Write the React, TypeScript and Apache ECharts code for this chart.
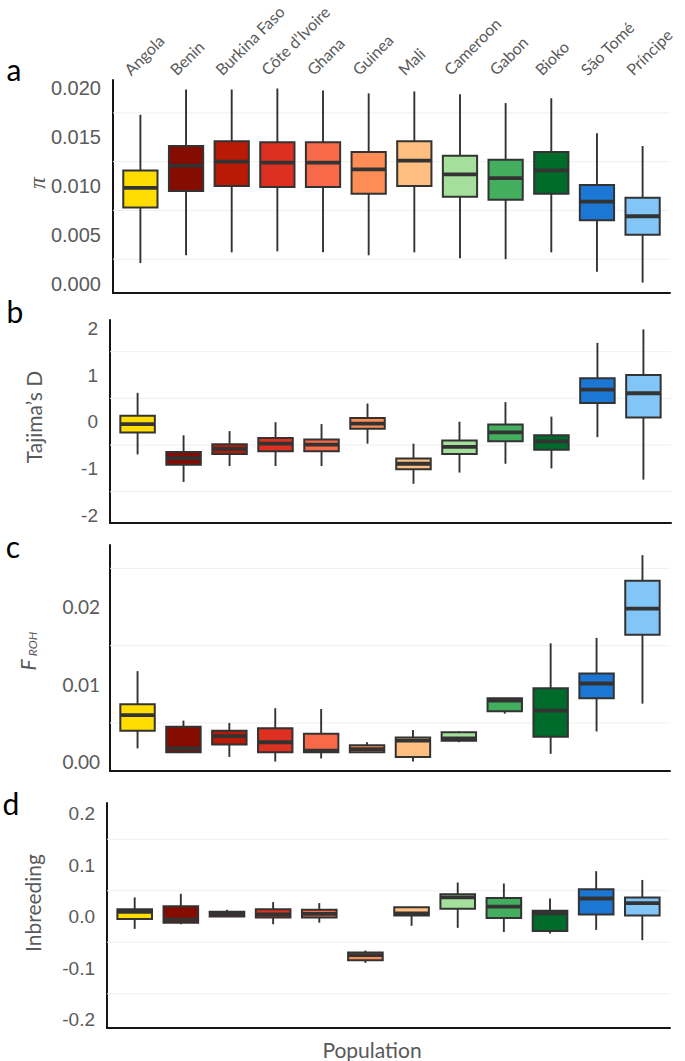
import React, { useEffect, useRef } from 'react';
import * as echarts from 'echarts';

const populations = ['Angola', 'Benin', 'Burkina Faso', 'Côte d’Ivoire', 'Ghana', 'Guinea', 'Mali', 'Cameroon', 'Gabon', 'Bioko', 'São Tomé', 'Príncipe'];
const fills = ['#FFDD00', '#850C00', '#B81A06', '#DD3020', '#F8694A', '#FD8C55', '#FEBF80', '#A5DF9C', '#43AE5E', '#006B2B', '#1C76D3', '#81C6F6'];

// each row: [lower whisker, Q1, median, Q3, upper whisker]
const piStats = [
  [0.0021, 0.0078, 0.0098, 0.0116, 0.0173],
  [0.0029, 0.0095, 0.0121, 0.0141, 0.0199],
  [0.0032, 0.0100, 0.0125, 0.0146, 0.0199],
  [0.0033, 0.0099, 0.0124, 0.0145, 0.0200],
  [0.0032, 0.0099, 0.0124, 0.0145, 0.0198],
  [0.0029, 0.0092, 0.0117, 0.0135, 0.0195],
  [0.0032, 0.0100, 0.0126, 0.0146, 0.0197],
  [0.0026, 0.0089, 0.0112, 0.0131, 0.0194],
  [0.0025, 0.0086, 0.0108, 0.0127, 0.0185],
  [0.0032, 0.0092, 0.0116, 0.0135, 0.0190],
  [0.0012, 0.0065, 0.0084, 0.0101, 0.0154],
  [0.0001, 0.0050, 0.0069, 0.0088, 0.0141],
];
const tajimaStats = [
  [-0.70, -0.23, -0.05, 0.13, 0.62],
  [-1.29, -0.92, -0.78, -0.65, -0.29],
  [-0.95, -0.69, -0.58, -0.48, -0.20],
  [-0.95, -0.63, -0.47, -0.35, -0.01],
  [-0.95, -0.63, -0.49, -0.38, -0.05],
  [-0.47, -0.15, -0.04, 0.08, 0.39],
  [-1.33, -1.02, -0.90, -0.79, -0.47],
  [-1.09, -0.69, -0.54, -0.40, 0.00],
  [-0.90, -0.42, -0.23, -0.06, 0.42],
  [-1.00, -0.60, -0.42, -0.29, 0.11],
  [-0.33, 0.40, 0.69, 0.93, 1.69],
  [-1.24, 0.09, 0.61, 1.00, 1.98],
];
const frohStats = [
  [0.0017, 0.0040, 0.0060, 0.0074, 0.0117],
  [0.0011, 0.0012, 0.0017, 0.0045, 0.0053],
  [0.0006, 0.0022, 0.0033, 0.0040, 0.0050],
  [0.0000, 0.0012, 0.0025, 0.0043, 0.0069],
  [0.0004, 0.0012, 0.0014, 0.0036, 0.0068],
  [0.0011, 0.0012, 0.0016, 0.0021, 0.0025],
  [0.0000, 0.0006, 0.0027, 0.0031, 0.0041],
  [0.0025, 0.0027, 0.0030, 0.0038, 0.0039],
  [0.0062, 0.0065, 0.0079, 0.0082, 0.0082],
  [0.0010, 0.0032, 0.0066, 0.0095, 0.0153],
  [0.0039, 0.0082, 0.0101, 0.0114, 0.0160],
  [0.0075, 0.0164, 0.0198, 0.0234, 0.0267],
];
const inbreedingStats = [
  [-0.024, -0.005, 0.009, 0.014, 0.037],
  [-0.015, -0.012, -0.006, 0.020, 0.044],
  [0.000, 0.000, 0.005, 0.009, 0.013],
  [-0.015, -0.002, 0.004, 0.014, 0.028],
  [-0.012, -0.002, 0.005, 0.013, 0.026],
  [-0.090, -0.085, -0.075, -0.070, -0.066],
  [-0.018, 0.002, 0.006, 0.018, 0.019],
  [-0.022, 0.015, 0.037, 0.043, 0.066],
  [-0.030, -0.003, 0.019, 0.036, 0.064],
  [-0.033, -0.028, 0.006, 0.011, 0.035],
  [-0.026, 0.004, 0.035, 0.053, 0.088],
  [-0.046, 0.002, 0.026, 0.037, 0.071],
];

const piTicks = [0, 0.005, 0.01, 0.015, 0.02];
const piGrid = [0.0025, 0.0075, 0.0125, 0.0175];
const tajimaTicks = [-2, -1, 0, 1, 2];
const tajimaGrid = [-1.5, -0.5, 0.5, 1.5];
const frohTicks = [0, 0.01, 0.02];
const frohGrid = [0.005, 0.015, 0.025];
const inbreedingTicks = [-0.2, -0.1, 0, 0.1, 0.2];
const inbreedingGrid = [-0.15, -0.05, 0.05, 0.15];

const TICK_COLOR = '#5a5a5a';
const LINE_COLOR = '#333333';
const AXIS_COLOR = '#151515';
const LABEL_SHIFT = 0.3;

const panels = [
  { stats: piStats, ticks: piTicks, grid: piGrid, min: -0.00097, max: 0.02087, dec: 3, rect: { left: 113, right: 15, top: 80, height: 213 }, font: 'Liberation Sans', size: 20, labelMargin: 12 },
  { stats: tajimaStats, ticks: tajimaTicks, grid: tajimaGrid, min: -2.17, max: 2.18, dec: 0, rect: { left: 110, right: 14, top: 320, height: 203 }, font: 'Liberation Sans', size: 19, labelMargin: 12 },
  { stats: frohStats, ticks: frohTicks, grid: frohGrid, min: -0.00122, max: 0.02802, dec: 2, rect: { left: 110, right: 15, top: 545, height: 226 }, font: 'Lato', size: 19, labelMargin: 10 },
  { stats: inbreedingStats, ticks: inbreedingTicks, grid: inbreedingGrid, min: -0.2165, max: 0.2204, dec: 1, rect: { left: 107, right: 15, top: 803, height: 225 }, font: 'Liberation Sans', size: 19, labelMargin: 12 },
];

function boxRender(params: any, api: any) {
  const i = api.value(0);
  const idx = params.dataIndex;
  const pLow = api.coord([i, api.value(1)]);
  const pQ1 = api.coord([i, api.value(2)]);
  const pMed = api.coord([i, api.value(3)]);
  const pQ3 = api.coord([i, api.value(4)]);
  const pHigh = api.coord([i, api.value(5)]);
  const hw = api.size([0.75, 0])[0] / 2;
  const cx = pMed[0];
  const wStyle = { stroke: LINE_COLOR, lineWidth: 1.9 };
  return {
    type: 'group',
    children: [
      { type: 'line', shape: { x1: cx, y1: pHigh[1], x2: cx, y2: pQ3[1] }, style: wStyle },
      { type: 'line', shape: { x1: cx, y1: pQ1[1], x2: cx, y2: pLow[1] }, style: wStyle },
      { type: 'rect', shape: { x: cx - hw, y: pQ3[1], width: hw * 2, height: pQ1[1] - pQ3[1] }, style: { fill: fills[idx], stroke: LINE_COLOR, lineWidth: 2 } },
      { type: 'line', shape: { x1: cx - hw, y1: pMed[1], x2: cx + hw, y2: pMed[1] }, style: { stroke: LINE_COLOR, lineWidth: 3.8 } },
    ],
  };
}

function gridRender(params: any, api: any) {
  const cs = params.coordSys;
  const p = api.coord([api.value(0), api.value(1)]);
  return { type: 'line', shape: { x1: cs.x, y1: p[1], x2: cs.x + cs.width, y2: p[1] }, style: { stroke: '#efefef', lineWidth: 1 } };
}

function text(x: number, y: number, t: string, font: string, opts: any = {}) {
  return {
    type: 'text', x, y, rotation: opts.rotation || 0,
    style: { text: t, font, fill: opts.fill || '#595959', align: opts.align || 'center', verticalAlign: opts.va || 'middle', textAlign: opts.align || 'center', textVerticalAlign: opts.va || 'middle' },
  };
}

export default function App() {
  const ref = useRef<HTMLDivElement>(null);
  useEffect(() => {
    if (!ref.current) return;
    const chart = echarts.init(ref.current, null, { renderer: 'svg' });
    const grids: any[] = [];
    const xAxes: any[] = [];
    const yAxes: any[] = [];
    const series: any[] = [];
    panels.forEach((p, k) => {
      grids.push({ ...p.rect, containLabel: false, outerBoundsMode: 'none' });
      xAxes.push({
        gridIndex: k, type: 'value', position: 'bottom', min: 0.4, max: 12.6,
        axisLine: { show: true, onZero: false, lineStyle: { color: AXIS_COLOR, width: 2 } },
        axisTick: { show: false }, axisLabel: { show: false }, splitLine: { show: false },
      });
      yAxes.push({
        gridIndex: k, type: 'value', min: p.min, max: p.max,
        axisLine: { show: true, onZero: false, lineStyle: { color: AXIS_COLOR, width: 2 } },
        axisTick: { show: false }, splitLine: { show: false },
        axisLabel: {
          customValues: p.ticks, margin: p.labelMargin, color: TICK_COLOR, fontSize: p.size, fontFamily: p.font,
          formatter: (v: number) => v.toFixed(p.dec),
        },
      });
      series.push({
        type: 'custom', xAxisIndex: k, yAxisIndex: k, z: 1, silent: true,
        data: p.grid.map((g) => [1, g]), encode: { x: 0, y: 1 }, renderItem: gridRender,
      });
      series.push({
        type: 'custom', xAxisIndex: k, yAxisIndex: k, z: 2, silent: true,
        data: p.stats.map((s, i) => [i + 1, ...s]), encode: { x: 0, y: [1, 2, 3, 4, 5] }, renderItem: boxRender,
      });
    });
    // top category labels for panel a
    xAxes.push({
      gridIndex: 0, type: 'value', position: 'top', min: 0.4, max: 12.6,
      axisLine: { show: false }, axisTick: { show: false }, splitLine: { show: false },
      axisLabel: {
        customValues: populations.map((_, i) => i + 1 - LABEL_SHIFT),
        formatter: (v: number) => populations[Math.round(v + LABEL_SHIFT) - 1],
        rotate: 45, margin: 8, color: TICK_COLOR, fontSize: 16, fontFamily: 'Lato',
      },
    });

    const graphic = [
      text(14, 69, 'a', '30px Lato', { fill: '#000' }),
      text(15, 311, 'b', '30px Lato', { fill: '#000' }),
      text(13, 546, 'c', '30px Lato', { fill: '#000' }),
      text(11, 803, 'd', '30px Lato', { fill: '#000' }),
      text(37, 183, 'π', 'italic 23px "Liberation Serif"', { rotation: Math.PI / 2 }),
      text(33, 417, 'Tajima’s D', '21px Lato', { rotation: Math.PI / 2 }),
      text(27, 665, 'F', 'italic 21px Lato', { rotation: Math.PI / 2 }),
      text(32, 644, 'ROH', 'italic 12px Lato', { rotation: Math.PI / 2 }),
      text(32, 903, 'Inbreeding', '21px Lato', { rotation: Math.PI / 2 }),
      text(372, 1049, 'Population', '21px Lato'),
    ];

    chart.setOption({
      animation: false,
      backgroundColor: '#ffffff',
      grid: grids,
      xAxis: xAxes,
      yAxis: yAxes,
      series,
      graphic,
    });
    return () => chart.dispose();
  }, []);
  return <div ref={ref} style={{ position: 'absolute', left: 0, top: 0, width: 685, height: 1061 }} />;
}
